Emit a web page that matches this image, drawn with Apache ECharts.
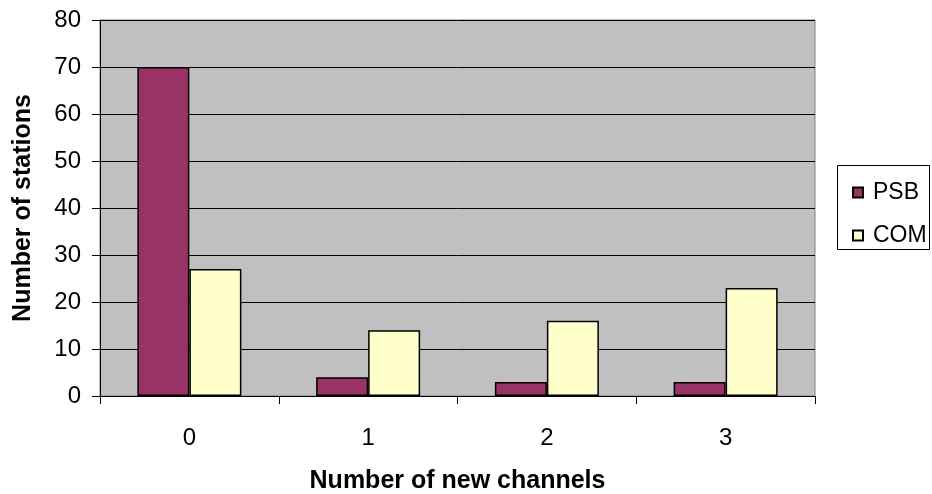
<!DOCTYPE html>
<html><head><meta charset="utf-8">
<script src="https://cdn.jsdelivr.net/npm/echarts@6/dist/echarts.min.js"></script>
<style>html,body{margin:0;padding:0;background:#fff}#c{width:932px;height:494px}</style>
</head><body><div id="c"></div>
<script>
const categories = ['0', '1', '2', '3'];
const psb = [70, 4, 3, 3];
const com = [27, 14, 16, 23];
const yTicks = [0, 10, 20, 30, 40, 50, 60, 70, 80];

const FONT = '"Liberation Sans", Arial, sans-serif';
const chart = echarts.init(document.getElementById('c'));
chart.setOption({
  animation: false,
  backgroundColor: '#fff',
  textStyle: { fontFamily: FONT },
  grid: { left: 100, right: 117, top: 20, bottom: 98, containLabel: false, outerBoundsMode: 'none',
    show: true, backgroundColor: '#C0C0C0', borderColor: '#808080', borderWidth: 1 },
  legend: {
    orient: 'vertical', left: 847, top: 176, itemWidth: 10, itemHeight: 10, itemGap: 20,
    textStyle: { fontFamily: FONT, fontSize: 23, lineHeight: 23, color: '#000', padding: [0, 0, 0, 5] },
    data: [{ name: 'PSB', icon: 'rect' }, { name: 'COM', icon: 'rect' }]
  },
  graphic: [{ type: 'rect', shape: { x: 837.5, y: 165.5, width: 92, height: 84 }, style: { fill: '#fff', stroke: '#000', lineWidth: 1 }, z: -1 }],
  xAxis: {
    type: 'category', data: categories,
    name: 'Number of new channels', nameLocation: 'middle', nameGap: 73,
    nameTextStyle: { fontFamily: FONT, fontSize: 25, fontWeight: 'bold', color: '#000' },
    axisLine: { lineStyle: { color: '#000' } },
    axisTick: { show: true, length: 8, lineStyle: { color: '#000' } },
    axisLabel: { fontFamily: FONT, fontSize: 24, color: '#000', margin: 30 }
  },
  yAxis: {
    type: 'value', min: 0, max: 80, interval: 10,
    name: 'Number of stations', nameLocation: 'middle', nameGap: 64,
    nameTextStyle: { fontFamily: FONT, fontSize: 25, fontWeight: 'bold', color: '#000' },
    axisLine: { show: true, lineStyle: { color: '#000' } },
    axisTick: { show: true, length: 8, lineStyle: { color: '#000' } },
    axisLabel: { fontFamily: FONT, fontSize: 24, color: '#000', margin: 19,
      formatter: v => yTicks.includes(v) ? String(v) : '' },
    splitLine: { show: true, lineStyle: { color: '#000', width: 1 } }
  },
  series: [
    { name: 'PSB', type: 'bar', data: psb, barWidth: 52, barGap: '0%',
      itemStyle: { color: '#993366', borderColor: '#000', borderWidth: 1.5 } },
    { name: 'COM', type: 'bar', data: com, barWidth: 52, barGap: '0%',
      itemStyle: { color: '#FFFFCC', borderColor: '#000', borderWidth: 1.5 } }
  ]
});
</script></body></html>
